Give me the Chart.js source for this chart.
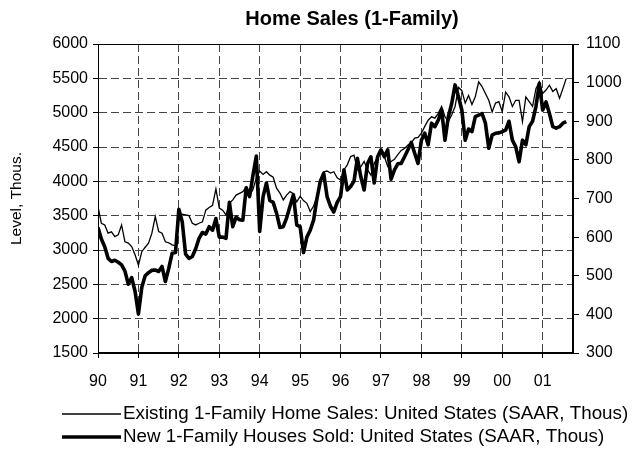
<!DOCTYPE html>
<html lang="en">
<head>
  <meta charset="UTF-8" />
  <title>Home Sales (1-Family)</title>
  <script src="https://cdn.jsdelivr.net/npm/chart.js"></script>
  <style>
    body { margin: 0; background: #fff; }
    canvas { display: block; }
  </style>
</head>
<body>
  <canvas id="salesChart" width="640" height="465"></canvas>

  <script>
    // monthly, Jan 1990 .. Aug 2001 (SAAR, thousands)
    const yearLabels = ['90', '91', '92', '93', '94', '95', '96', '97', '98', '99', '00', '01'];
    const leftRange = [1500, 6000];
    const rightRange = [300, 1100];

    const existingSales = [
      3630, 3390, 3365, 3245, 3265, 3195, 3220, 3365, 3120, 3100, 3050, 2930,
      2780, 2975, 3040, 3100, 3245, 3485, 3270, 3245, 3120, 3105, 3075, 3060,
      3450, 3520, 3510, 3500, 3390, 3365, 3390, 3410, 3580, 3620, 3650, 3890,
      3610, 3580, 3510, 3680, 3730, 3800, 3825, 3850, 3920, 3800, 3880, 4050,
      4150, 4100, 4140, 4090, 4060, 3900, 3830, 3730, 3800, 3850, 3820, 3700,
      3780, 3720, 3680, 3560, 3640, 3780, 4020, 4140, 4150, 4120, 4140, 4050,
      4020, 4165, 4240, 4360, 4380, 4170, 4210, 4290, 4170, 4090, 4260, 4360,
      4410, 4360, 4220, 4290, 4320, 4390, 4450, 4480, 4530, 4560, 4630, 4640,
      4700, 4800, 4890, 4940, 4920, 4990, 5090, 4940, 4870, 4970, 5090, 5370,
      5320, 5140, 5250, 5120, 5230, 5450, 5380, 5280, 5180, 5010, 5140, 5160,
      5015, 5300, 5230, 5090, 5180, 5180, 4870, 5230, 5160, 5090, 5350, 5450,
      5280, 5330, 5400, 5310, 5350, 5210, 5350, 5500
    ];

    const newSales = [
      625, 595, 575, 545, 537, 540, 535, 528, 512, 478, 495, 460,
      401, 470, 500, 508, 514, 515, 511, 524, 485, 519, 558, 560,
      672, 640, 556, 545, 550, 570, 597, 612, 608, 627, 618, 648,
      600, 600, 597, 690, 627, 652, 645, 644, 728, 705, 760, 810,
      615, 705, 740, 695, 690, 662, 625, 627, 650, 680, 710, 631,
      627, 560, 600, 618, 644, 700, 745, 765, 705, 680, 665, 690,
      705, 774, 722, 731, 745, 804, 757, 722, 790, 808, 740, 808,
      826, 808, 826, 750, 774, 790, 791, 808, 826, 845, 817, 791,
      851, 869, 839, 895, 886, 903, 929, 851, 912, 946, 994, 964,
      929, 851, 880, 873, 912, 916, 920, 895, 830, 864, 869, 870,
      873, 877, 900, 851, 834, 795, 851, 839, 886, 900, 938, 998,
      929, 950, 920, 886, 882, 886, 895, 899
    ];

    const FONT = 'Arial, "Liberation Sans", sans-serif';
    const tickFont = { family: FONT, size: 16 };

    // title, y title, legend and frame drawn on top of the chart
    const extras = {
      id: 'extras',
      afterDraw(chart) {
        const { ctx, chartArea: a } = chart;
        ctx.save();
        ctx.strokeStyle = '#000';
        ctx.lineWidth = 1;
        ctx.strokeRect(a.left + 0.5, a.top + 0.5, a.right - a.left - 1, a.bottom - a.top - 1);

        ctx.fillStyle = '#000';
        ctx.textBaseline = 'middle';
        ctx.textAlign = 'center';
        ctx.font = 'bold 20px ' + FONT;
        ctx.fillText('Home Sales (1-Family)', 352, 19);

        ctx.save();
        ctx.translate(17, (a.top + a.bottom) / 2);
        ctx.rotate(-Math.PI / 2);
        ctx.font = '15.5px ' + FONT;
        ctx.fillText('Level, Thous.', 0, 0);
        ctx.restore();

        ctx.textAlign = 'left';
        ctx.font = '18.8px ' + FONT;
        chart.data.datasets.forEach((ds, k) => {
          const y = 414 + k * 23;
          ctx.beginPath();
          ctx.lineWidth = ds.borderWidth;
          ctx.moveTo(62, y);
          ctx.lineTo(121, y);
          ctx.stroke();
          ctx.fillText(ds.label, 123, y);
        });
        ctx.restore();
      }
    };

    new Chart(document.getElementById('salesChart'), {
      type: 'line',
      data: {
        datasets: [
          {
            label: 'Existing 1-Family Home Sales: United States (SAAR, Thous)',
            data: existingSales.map((v, i) => ({ x: i, y: v })),
            yAxisID: 'yLeft',
            borderColor: '#000',
            borderWidth: 1.3,
            pointRadius: 0,
            order: 2
          },
          {
            label: 'New 1-Family Houses Sold: United States (SAAR, Thous)',
            data: newSales.map((v, i) => ({ x: i, y: v })),
            yAxisID: 'yRight',
            borderColor: '#000',
            borderWidth: 3.6,
            borderJoinStyle: 'round',
            pointRadius: 0,
            order: 1
          }
        ]
      },
      options: {
        responsive: false,
        animation: false,
        layout: { padding: { top: 44, bottom: 72, left: 0, right: 0 } },
        plugins: {
          legend: { display: false },
          tooltip: { enabled: false },
          title: { display: false }
        },
        scales: {
          x: {
            type: 'linear',
            min: 0,
            max: 141,
            afterBuildTicks: s => { s.ticks = yearLabels.map((_, k) => ({ value: k * 12 })); },
            afterFit: s => { s.height = 40; },
            ticks: {
              callback: v => yearLabels[v / 12],
              font: tickFont,
              color: '#000',
              padding: 14,
              maxRotation: 0,
              autoSkip: false
            },
            grid: { color: '#444', tickColor: '#000', tickLength: 5 },
            border: { color: '#000', dash: [8, 4] }
          },
          yLeft: {
            position: 'left',
            min: leftRange[0],
            max: leftRange[1],
            afterFit: s => { s.width = 98; },
            ticks: { stepSize: 500, font: tickFont, color: '#000', padding: 5, callback: v => String(v) },
            grid: { color: '#444', tickColor: '#000', tickLength: 5 },
            border: { color: '#000', dash: [8, 4] }
          },
          yRight: {
            position: 'right',
            min: rightRange[0],
            max: rightRange[1],
            afterFit: s => { s.width = 67; },
            ticks: { stepSize: 100, font: tickFont, color: '#000', padding: 7, callback: v => String(v) },
            grid: { drawOnChartArea: false, tickColor: '#000', tickLength: 6 },
            border: { color: '#000' }
          }
        }
      },
      plugins: [extras]
    });
  </script>
</body>
</html>
